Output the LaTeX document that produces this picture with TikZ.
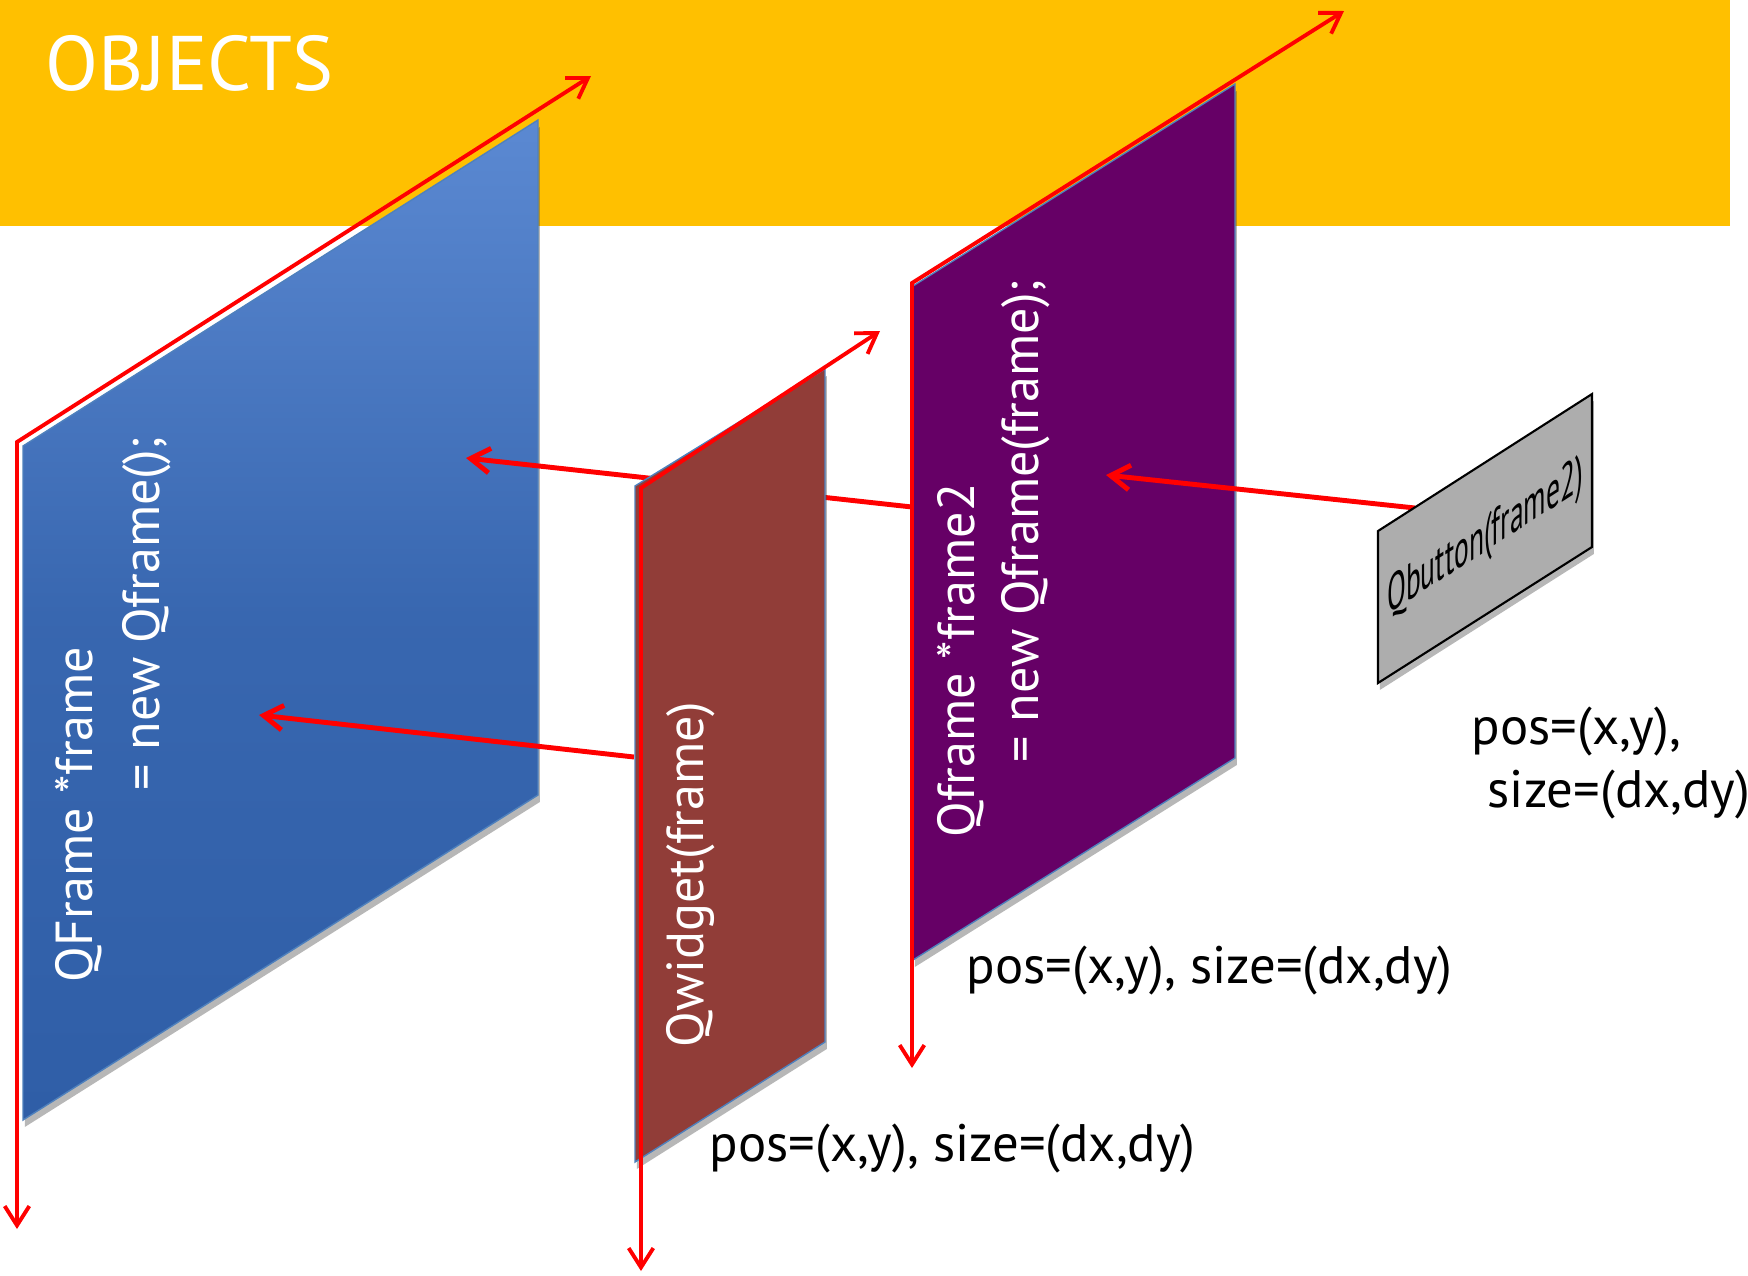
\documentclass[tikz,border=0pt]{standalone}
\usepackage{fontspec}
\setmainfont{PT Sans}
\usetikzlibrary{arrows.meta,shadows}

\definecolor{bandY}{HTML}{FFC000}
\definecolor{axisR}{HTML}{FF0000}
\definecolor{frameLt}{HTML}{5B89D2}
\definecolor{frameDk}{HTML}{2F5EA7}
\definecolor{widgetBr}{HTML}{913D38}
\definecolor{frameP}{HTML}{660066}
\definecolor{buttonG}{HTML}{ADADAD}
\definecolor{edgeB}{HTML}{4F81BD}

\begin{document}
\begin{tikzpicture}[x=0.01cm, y=-0.01cm,
    barb/.tip={Straight Barb[length=5.5pt, width=7pt]},
    axis/.style={draw=axisR, line width=1.1pt, {barb}-{barb}},
    link/.style={draw=axisR, line width=1.4pt, -{barb}},
    shade under/.style={drop shadow={shadow xshift=0.5pt, shadow yshift=-2pt,
      opacity=0.4, fill=black!70}},
    panel/.style={draw=edgeB, line width=0.4pt, shade under},
    codetext/.style={text=white, font=\fontsize{14.8}{17}\selectfont,
      rotate=90, anchor=base west, inner sep=0pt},
    dimtext/.style={font=\fontsize{15}{18}\selectfont, anchor=base west, inner sep=0pt}]

  \useasboundingbox (0,0) rectangle (1748,1275);

  % title band
  \fill[bandY] (0,0) rectangle (1730,226);
  \node[text=white, font=\fontsize{22}{26}\selectfont, anchor=base west, inner sep=0pt]
    (title) at (45,90) {OBJECTS};

  % corners of the panels
  \coordinate (fA1) at (23,446);   \coordinate (fA2) at (538,120);
  \coordinate (fA3) at (538,795);  \coordinate (fA4) at (23,1120);
  \coordinate (wA1) at (635,486);  \coordinate (wA2) at (825,369);
  \coordinate (wA3) at (825,1042); \coordinate (wA4) at (635,1162);
  \coordinate (gA1) at (913,286);  \coordinate (gA2) at (1235,84);
  \coordinate (gA3) at (1235,758); \coordinate (gA4) at (913,960);
  \coordinate (bA1) at (1378,531); \coordinate (bA2) at (1592,394);
  \coordinate (bA3) at (1592,547); \coordinate (bA4) at (1378,683);

  % axis ends
  \coordinate (fCorner) at (17,442);  \coordinate (fUp) at (591,76);   \coordinate (fDown) at (17,1229);
  \coordinate (wCorner) at (641,488); \coordinate (wUp) at (880,331);  \coordinate (wDown) at (641,1271);
  \coordinate (gCorner) at (912,283); \coordinate (gUp) at (1344,11);  \coordinate (gDown) at (912,1068);

  % parent links
  \coordinate (gOut) at (912,507);  \coordinate (fIn1) at (466,458);
  \coordinate (wOut) at (634,757);  \coordinate (fIn2) at (259,715);
  \coordinate (bOut) at (1415,508); \coordinate (gIn) at (1106,475);

  % frame
  \shade[panel, top color=frameLt, bottom color=frameDk, middle color=frameDk!80!frameLt]
    (fA1) -- (fA2) -- (fA3) -- (fA4) -- cycle;
  \draw[axis] (fUp) -- (fCorner) -- (fDown);
  \node[codetext] (fDecl1) at (92,983) {QFrame *frame};
  \node[codetext] (fDecl2) at (159,791) {= new Qframe();};

  \draw[link] (gOut) -- (fIn1);
  \draw[link] (wOut) -- (fIn2);

  % widget
  \fill[panel, fill=widgetBr] (wA1) -- (wA2) -- (wA3) -- (wA4) -- cycle;
  \draw[axis] (wUp) -- (wCorner) -- (wDown);
  \node[codetext] (wDecl) at (703,1048) {Qwidget(frame)};

  % frame2
  \fill[panel, fill=frameP] (gA1) -- (gA2) -- (gA3) -- (gA4) -- cycle;
  \draw[axis] (gUp) -- (gCorner) -- (gDown);
  \node[codetext] (gDecl1) at (974,838) {Qframe *frame2};
  \node[codetext] (gDecl2) at (1038,763) {= new Qframe(frame);};

  \draw[link] (bOut) -- (gIn);

  % button
  \fill[buttonG, draw=black, line width=0.6pt, shade under]
    (bA1) -- (bA2) -- (bA3) -- (bA4) -- cycle;
  \begin{scope}[shift={(1485,539)}, cm={0.53,0.34,0,1,(0,0)}]
    \node[transform shape, font=\fontsize{14.8}{17}\selectfont, inner sep=0pt]
      (btnText) at (0,0) {Qbutton(frame2)};
  \end{scope}

  % geometry labels
  \node[dimtext] (wDims) at (709,1161) {pos=(x,y), size=(dx,dy)};
  \node[dimtext] (gDims) at (966,983) {pos=(x,y), size=(dx,dy)};
  \node[dimtext] (bDims1) at (1471,744) {pos=(x,y),};
  \node[dimtext] (bDims2) at (1487,807) {size=(dx,dy)};
\end{tikzpicture}
\end{document}
